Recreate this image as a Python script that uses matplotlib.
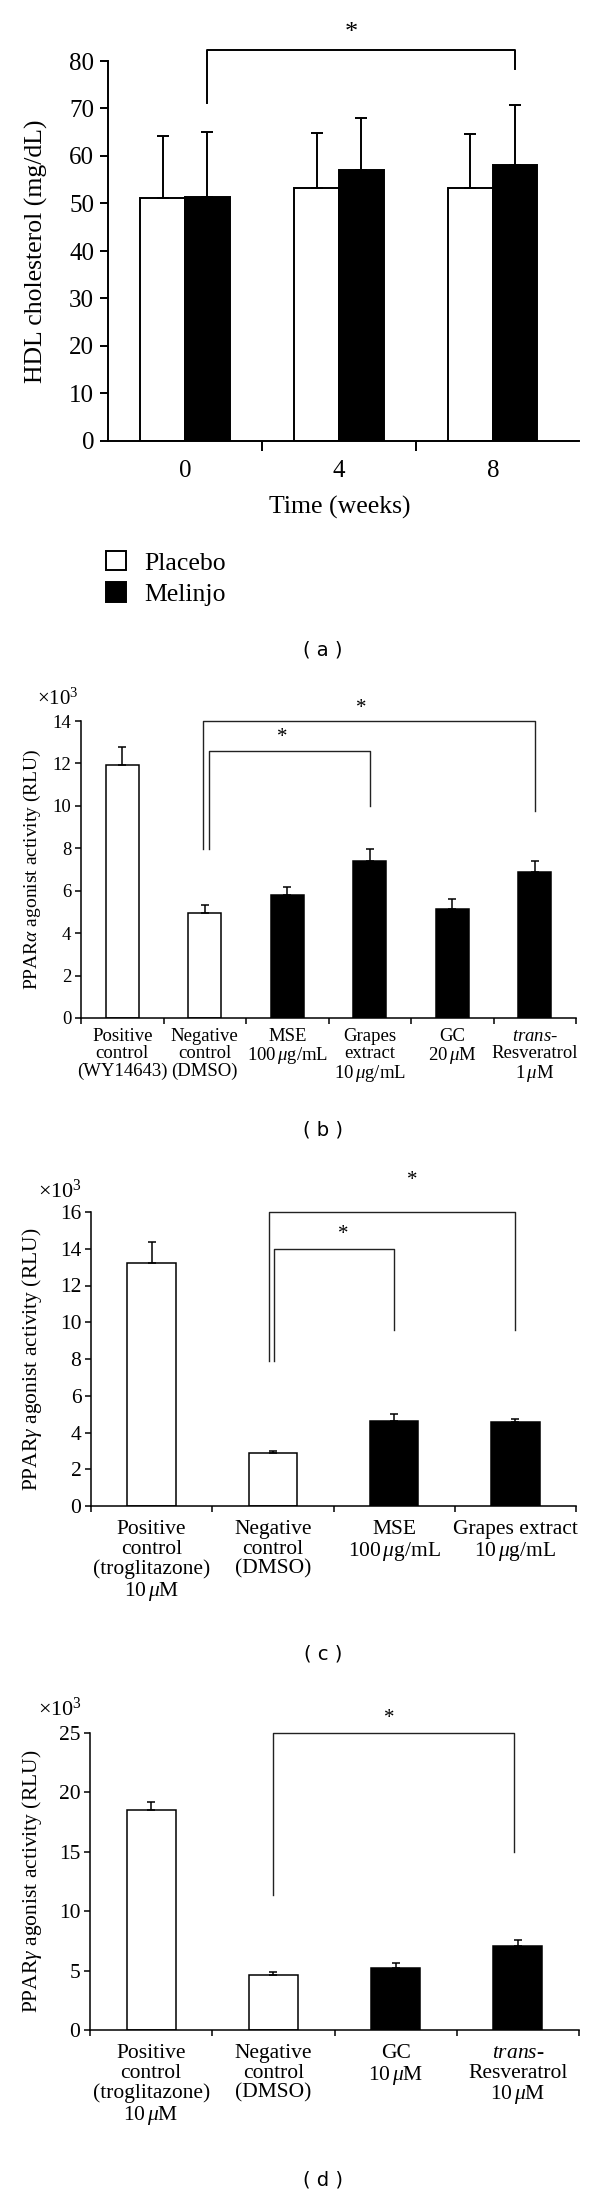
import matplotlib
matplotlib.use("Agg")
import matplotlib.pyplot as plt
import numpy as np

W, H = 600, 2196

plt.rcParams['font.family'] = ['Liberation Serif', 'DejaVu Serif']
plt.rcParams['mathtext.fontset'] = 'custom'
plt.rcParams['mathtext.rm'] = 'Liberation Serif'
plt.rcParams['mathtext.it'] = 'Liberation Serif:italic'

# ---- (a) HDL cholesterol ----
weeks = ['0', '4', '8']
placebo = [51.2, 53.2, 53.2]
placebo_err = [13.1, 11.7, 11.4]
melinjo = [51.4, 57.1, 58.2]
melinjo_err = [13.7, 10.8, 12.5]
# bracket: x left, x right, y top, left leg end, right leg end, star x, star y
a_brackets = [(0.145, 2.145, 82.3, 71.2, 78.4, 1.08, 85.8)]

# ---- (b) PPAR alpha ----
b_labels = ['Positive\ncontrol\n(WY14643)', 'Negative\ncontrol\n(DMSO)',
            'MSE\n100$\\,\\mu$g/mL', 'Grapes\nextract\n10$\\,\\mu$g/mL',
            'GC\n20$\\,\\mu$M', '$\\mathit{trans}$-\nResveratrol\n1$\\,\\mu$M']
b_vals = [11.93, 4.97, 5.79, 7.40, 5.13, 6.90]
b_err = [0.84, 0.38, 0.39, 0.57, 0.47, 0.49]
b_fill = ['white', 'white', 'black', 'black', 'black', 'black']
b_brackets = [(0.98, 5.0, 14.0, 7.95, 9.75, 2.9, 14.6),
              (1.05, 3.0, 12.6, 7.95, 10.0, 1.94, 13.2)]

# ---- (c) PPAR gamma ----
c_labels = ['Positive\ncontrol\n(troglitazone)\n10$\\,\\mu$M', 'Negative\ncontrol\n(DMSO)',
            'MSE\n100$\\,\\mu$g/mL', 'Grapes extract\n10$\\,\\mu$g/mL']
c_vals = [13.21, 2.88, 4.65, 4.56]
c_err = [1.16, 0.14, 0.36, 0.18]
c_fill = ['white', 'white', 'black', 'black']
c_brackets = [(0.966, 3.0, 16.0, 7.9, 9.6, 2.15, 17.7),
              (1.01, 2.0, 14.0, 7.9, 9.6, 1.58, 14.8)]

# ---- (d) PPAR gamma ----
d_labels = ['Positive\ncontrol\n(troglitazone)\n10$\\,\\mu$M', 'Negative\ncontrol\n(DMSO)',
            'GC\n10$\\,\\mu$M', '$\\mathit{trans}$-\nResveratrol\n10$\\,\\mu$M']
d_vals = [18.49, 4.60, 5.22, 7.04]
d_err = [0.68, 0.28, 0.39, 0.51]
d_fill = ['white', 'white', 'black', 'black']
d_brackets = [(1.0, 2.97, 25.0, 11.4, 15.0, 1.95, 26.2)]

fig = plt.figure(figsize=(W / 100, H / 100), dpi=100)


def px_axes(left, top, right, bottom):
    return fig.add_axes([left / W, 1 - bottom / H, (right - left) / W, (bottom - top) / H])


def draw_brackets(ax, brackets, color, lw, star_size):
    for xl, xr, yt, yl, yr, sx, sy in brackets:
        ax.plot([xl, xl, xr, xr], [yl, yt, yt, yr], color=color, lw=lw, clip_on=False)
        ax.text(sx, sy, '*', ha='center', va='center', fontsize=star_size, clip_on=False)


def style_axes(ax, lw):
    for s in ['top', 'right']:
        ax.spines[s].set_visible(False)
    for s in ['left', 'bottom']:
        ax.spines[s].set_linewidth(lw)


# ================= (a) =================
ax = px_axes(108, 61, 579, 441)
x = np.arange(len(weeks))
bw = 0.29
ax.bar(x - bw / 2, placebo, bw, color='white', edgecolor='black', linewidth=1.4, label='Placebo')
ax.bar(x + bw / 2, melinjo, bw, color='black', edgecolor='black', linewidth=1.4, label='Melinjo')
ax.errorbar(x - bw / 2, placebo, yerr=[np.zeros(3), placebo_err], fmt='none',
            ecolor='black', elinewidth=1.4, capsize=4, capthick=1.4)
ax.errorbar(x + bw / 2, melinjo, yerr=[np.zeros(3), melinjo_err], fmt='none',
            ecolor='black', elinewidth=1.4, capsize=4, capthick=1.4)
ax.set_xlim(-0.5, 2.56)
ax.set_ylim(0, 80)
ax.set_yticks(np.arange(0, 81, 10))
ax.set_xticks(x)
ax.set_xticklabels(weeks)
ax.set_xticks([0.5, 1.5], minor=True)
ax.tick_params(axis='x', which='major', length=0, pad=14, labelsize=18)
ax.tick_params(axis='x', which='minor', length=7, width=1.4, direction='out')
ax.tick_params(axis='y', length=6, width=1.4, labelsize=18, pad=4)
style_axes(ax, 1.4)
draw_brackets(ax, a_brackets, 'black', 1.4, 19)
fig.text(340 / W, 1 - 507 / H, 'Time (weeks)', ha='center', va='center', fontsize=18.5)
fig.text(36 / W, 1 - 251 / H, 'HDL cholesterol (mg/dL)', ha='center', va='center',
         rotation=90, fontsize=18.5)
ax.legend(loc='upper left', bbox_to_anchor=(106 / W, 1 - 551 / H), bbox_transform=fig.transFigure,
          frameon=False, fontsize=18.5, handlelength=0.78, handleheight=0.78,
          handletextpad=0.7, labelspacing=0.3, borderpad=0, borderaxespad=0)
fig.text(323 / W, 1 - 650 / H, '( a )', ha='center', va='center', fontsize=14, family='DejaVu Sans')


# ============ single bar panels ============
def bar_panel(box, labels, vals, errs, fills, ymax, ystep, brackets, ylabel, ylab_x,
              tick_size, lab_size, ylab_size, pad, mult_xy, mult_size):
    ax = px_axes(*box)
    n = len(vals)
    xs = np.arange(n)
    ax.bar(xs, vals, 0.4, color=fills, edgecolor='black', linewidth=1.1)
    ax.errorbar(xs, vals, yerr=[np.zeros(n), errs], fmt='none', ecolor='black',
                elinewidth=1.1, capsize=3, capthick=1.1)
    ax.set_xlim(-0.5, n - 0.5)
    ax.set_ylim(0, ymax)
    ax.set_yticks(np.arange(0, ymax + 0.1, ystep))
    ax.set_xticks(xs)
    ax.set_xticklabels(labels, linespacing=1.05)
    ax.set_xticks(np.arange(n + 1) - 0.5, minor=True)
    ax.tick_params(axis='x', which='major', length=0, pad=pad, labelsize=lab_size)
    ax.tick_params(axis='x', which='minor', length=4, width=1.1, direction='out')
    ax.tick_params(axis='y', length=4, width=1.1, labelsize=tick_size, pad=3)
    style_axes(ax, 1.1)
    draw_brackets(ax, brackets, '#222222', 1.0, 15)
    left, top, right, bottom = box
    fig.text(ylab_x / W, 1 - (top + bottom) / 2 / H, ylabel, ha='center', va='center',
             rotation=90, fontsize=ylab_size)
    fig.text(mult_xy[0] / W, 1 - mult_xy[1] / H, '×10$^{3}$', ha='center', va='center',
             fontsize=mult_size)
    return ax


bar_panel((81, 721, 576, 1018), b_labels, b_vals, b_err, b_fill, 14, 2, b_brackets,
          'PPAR$\\alpha$ agonist activity (RLU)', 32, 13.5, 13.5, 14, 7, (58, 699), 15)
fig.text(323 / W, 1 - 1130 / H, '( b )', ha='center', va='center', fontsize=14, family='DejaVu Sans')

bar_panel((91, 1212, 576, 1506), c_labels, c_vals, c_err, c_fill, 16, 2, c_brackets,
          'PPAR$\\gamma$ agonist activity (RLU)', 32, 15.5, 15.5, 15.5, 10, (60, 1191), 16)
fig.text(323 / W, 1 - 1654 / H, '( c )', ha='center', va='center', fontsize=14, family='DejaVu Sans')

bar_panel((90, 1733, 579, 2030), d_labels, d_vals, d_err, d_fill, 25, 5, d_brackets,
          'PPAR$\\gamma$ agonist activity (RLU)', 32, 15.5, 15.5, 15.5, 10, (60, 1709), 16)
fig.text(323 / W, 1 - 2180 / H, '( d )', ha='center', va='center', fontsize=14, family='DejaVu Sans')

fig.savefig('out.png', dpi=100)
